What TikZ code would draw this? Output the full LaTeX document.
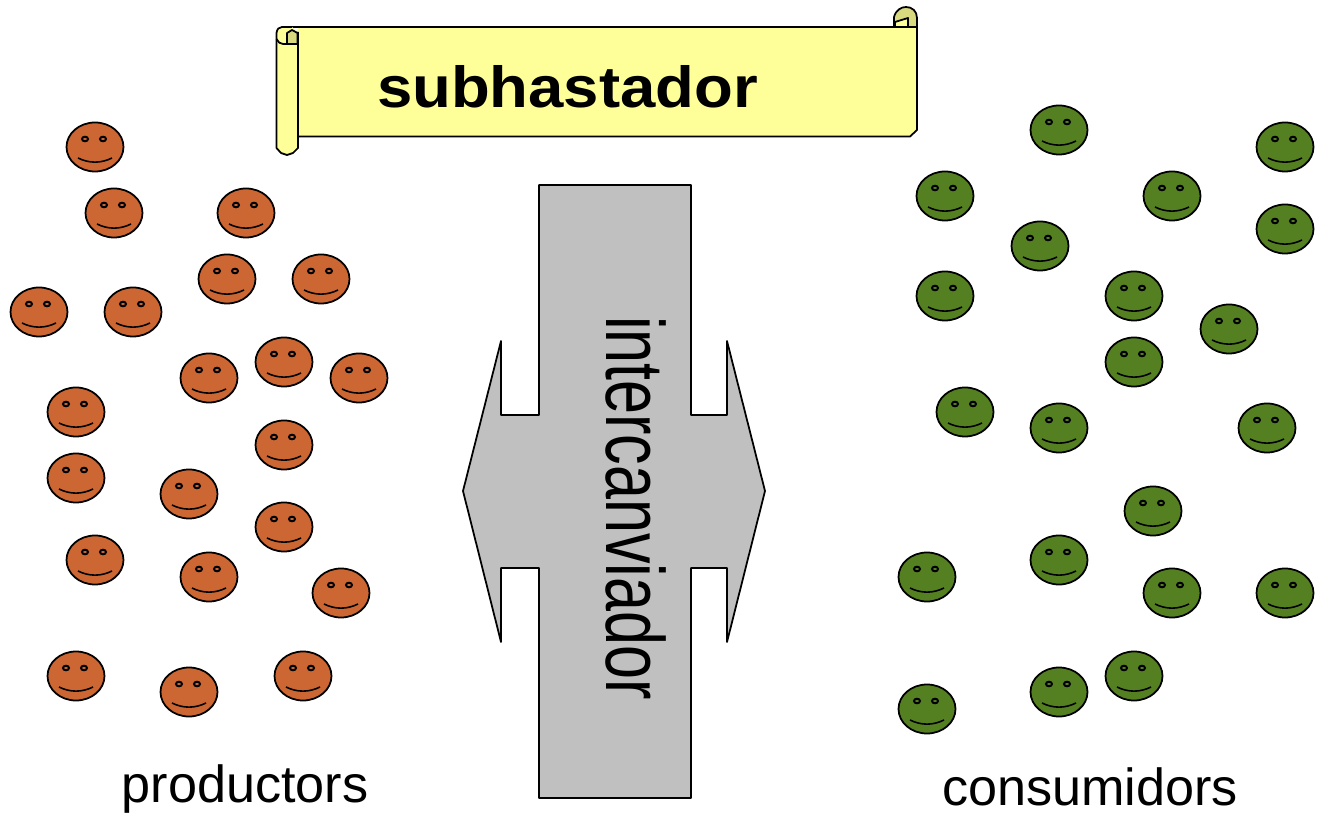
\documentclass[tikz,border=0pt]{standalone}
\usepackage{fontspec}
\setmainfont{Liberation Sans}
\definecolor{prodcol}{HTML}{CC6633}
\definecolor{conscol}{HTML}{558022}
\definecolor{scrollcol}{HTML}{FFFF99}
\definecolor{curlcol}{HTML}{D9D97F}
\definecolor{arrowcol}{HTML}{C0C0C0}
\tikzset{
    pics/smiley/.style={code={
        \draw[fill=#1, line width=1pt] (0,0) ellipse (28.5 and 24.5);
        \draw[fill=#1, line width=1.1pt] (-10,-8) ellipse (3 and 2.3);
        \draw[fill=#1, line width=1.1pt] (8,-8) ellipse (3 and 2.3);
        \draw[line width=0.9pt] (-17,11) .. controls (-6,16.5) and (6,16.5) .. (17,11);
    }}
}
\begin{document}
\begin{tikzpicture}[x=0.02cm,y=-0.02cm,
        label/.style={font=\fontsize{29.7}{32}\selectfont,inner sep=0pt,anchor=base},
        outline/.style={draw=black,line width=1pt,line join=round}]
\useasboundingbox (0,0) rectangle (1321,813);

% scroll
\fill[scrollcol] (282,27) -- (917,27) -- (917,130) -- (910,136) -- (298,136) -- (298,27) -- cycle;
\draw[outline,fill=curlcol] (894,27) -- (894,17) .. controls (896,10) and (901,7) .. (906,7)
    .. controls (912,7) and (917,11) .. (917,18) -- (917,27) -- cycle;
\draw[outline,fill=scrollcol] (895,27) -- (895,22) -- (908,18) -- (908,27) -- cycle;
\draw[outline] (282,27) -- (917,27) -- (917,130) -- (910,136.5) -- (298,136.5);
\draw[outline,fill=scrollcol] (298,32) -- (298,148) -- (293,153) -- (287,155) -- (281,153) -- (276.5,148)
    -- (276.5,33) .. controls (277,29) and (279,27) .. (282,27) -- (292,27);
\draw[outline,fill=curlcol] (287,44) -- (287,33) -- (292,30) -- (297.5,33) -- (297.5,44) -- cycle;
\draw[outline] (276.5,39) .. controls (278,42) and (280,44) .. (283,44) -- (298,44);

\node[font=\fontsize{33}{36}\selectfont\bfseries,inner sep=0pt,anchor=base,xscale=1.095] (title) at (567.5,108) {subhastador};

% double arrow
\draw[outline,fill=arrowcol] (539,185) -- (691,185) -- (691,415) -- (727,415) -- (727,341)
    -- (765,491) -- (727,642) -- (727,568) -- (691,568) -- (691,798) -- (539,798)
    -- (539,568) -- (501,568) -- (501,642) -- (463,491) -- (501,341) -- (501,415) -- (539,415) -- cycle;
\node[rotate=-90,xscale=0.74,font=\fontsize{47}{50}\selectfont,inner sep=0pt,anchor=base] (exchange) at (606,508) {intercanviador};

% people
\foreach \px/\py in {95/147,114/213,246/213,227/279,321/279,39/312,133/312,209/378,284/362,359/378,
        76/412,284/445,76/478,189/494,284/527,95/560,209/577,341/593,76/676,189/692,303/676}
    \pic at (\px,\py) {smiley=prodcol};
\foreach \px/\py in {1059/130,1285/147,945/196,1172/196,1285/229,1040/246,945/296,1134/296,1229/329,
        1134/362,965/412,1059/428,1267/428,1153/511,1059/560,927/577,1172/593,1285/593,1134/676,
        1059/692,927/709}
    \pic at (\px,\py) {smiley=conscol};

\node[label] (prod) at (245,802) {productors};
\node[label] (cons) at (1090,805) {consumidors};
\end{tikzpicture}
\end{document}
